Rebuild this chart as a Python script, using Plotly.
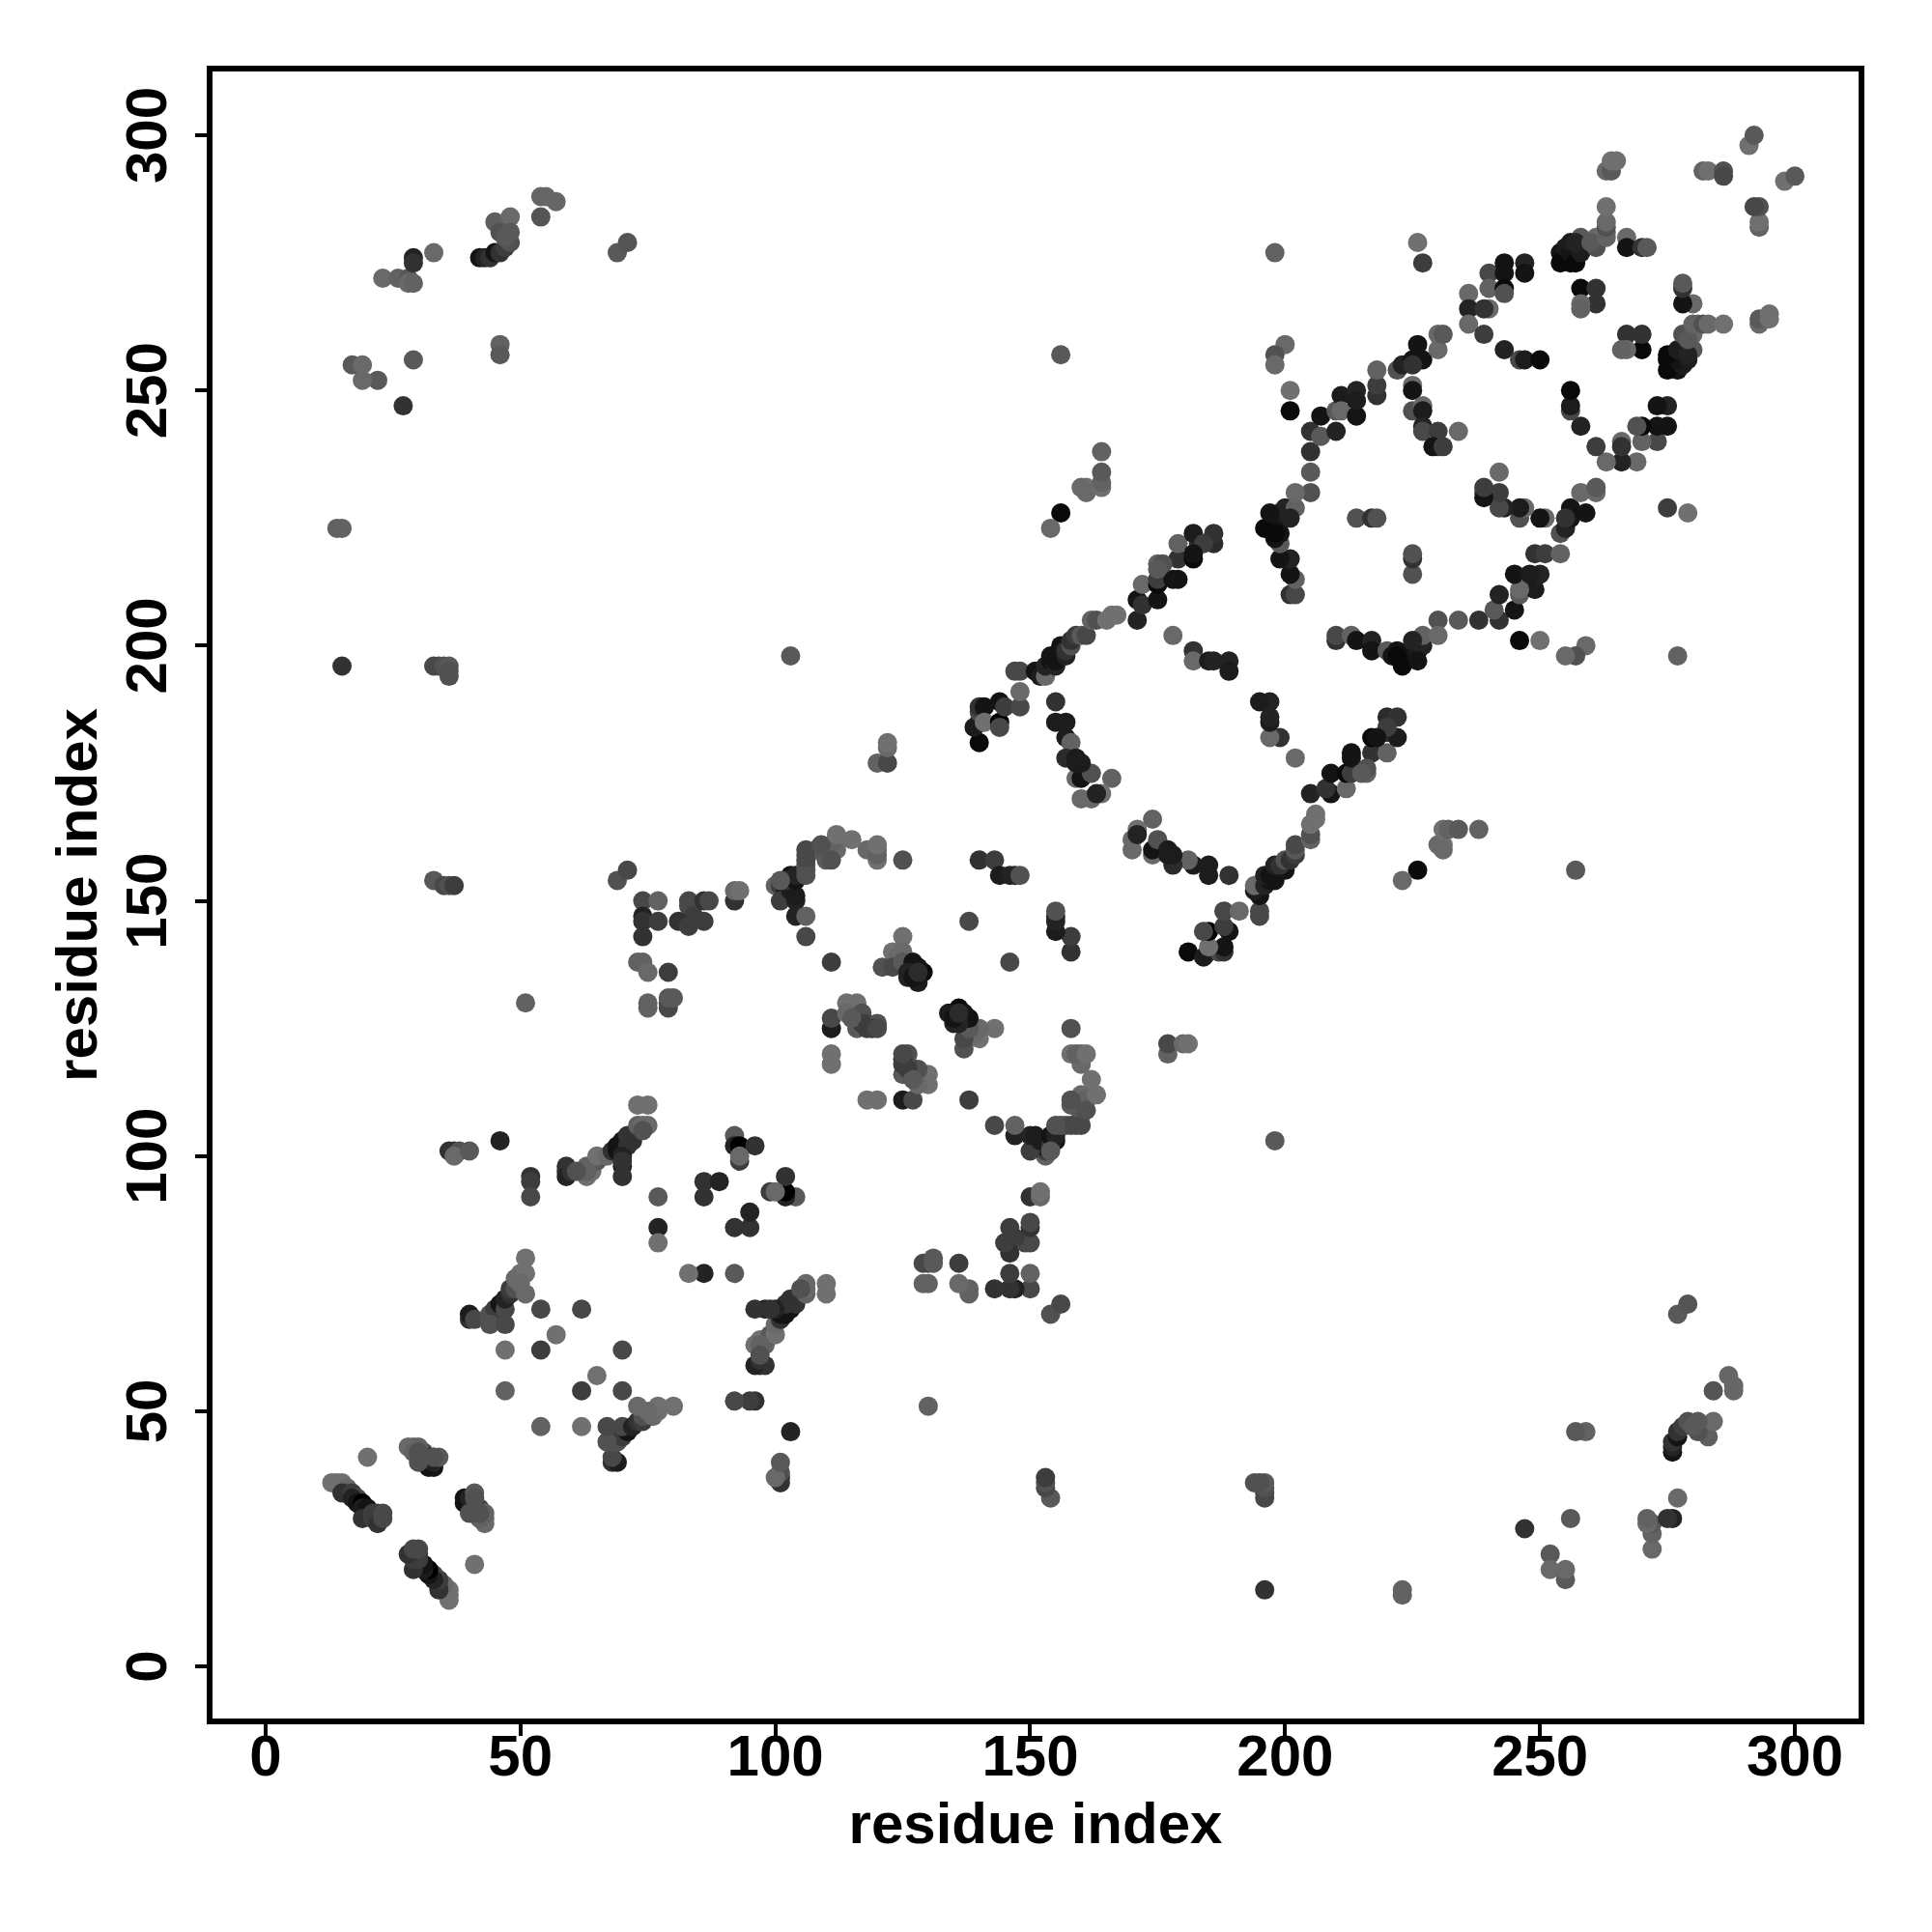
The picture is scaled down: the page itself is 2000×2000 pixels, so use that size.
import plotly.graph_objects as go

a_i = [13,14,15,16,16,15,17,18,17,18,19,19,20,20,19,21,21,22,22,22,23,23]
a_j = [36,36,36,35,34,34,34,33,33,32,32,31,31,30,29,30,29,29,30,28,29,30]
a_s = [100,100,100,90,60,30,40,50,20,10,0,15,10,10,30,40,40,40,40,30,50,50]

b_i = [28,29,29,30,31,32,33,31,32,33,33,34,30,30,30,33,20]
b_j = [43,43,42,42,42,41,41,40,39,39,40,41,40,43,42,41,41]
b_s = [90,90,80,70,50,30,50,40,10,10,20,70,60,80,60,60,100]

c_i = [40,40,41,44,45,46,44,45,46,47,47,48,48,49,49,50,50,51,51,51,50,44,47]
c_j = [68,69,68,68,68,68,69,70,71,70,72,73,74,74,76,77,76,80,77,73,75,67,67]
c_s = [30,15,50,70,70,70,60,40,10,50,20,30,40,60,90,100,90,100,100,90,90,60,50]

d_i = [46,36,37,38,37,40,54,62,57,47,54,47,52,52,52]
d_j = [103,101,101,101,100,101,70,70,65,62,62,54,96,95,92]
d_s = [20,30,30,60,90,70,50,50,100,100,40,80,30,40,50]

e_i = [59,59,59,60,62,63,64,63,65,65,63,61]
e_j = [98,97,96,97,97,96,97,98,99,100,97,97]
e_s = [30,30,20,30,90,100,100,80,70,100,80,60]

f_i = [67,68,69,69,70,71,70,70,70,72,73,71,72,73,74,75,73,75,74,70]
f_j = [100,101,101,102,103,102,100,98,96,104,105,104,103,106,106,106,110,110,105,99]
f_s = [90,30,10,10,10,30,20,20,30,50,50,30,30,80,90,90,100,100,60,30]

g_i = [77,77,77,86,86,89,92,92,93,93,96,93]
g_j = [92,86,83,95,92,95,104,102,102,99,102,100]
g_s = [70,20,100,30,30,20,70,20,0,40,30,90]

h_i = [51,73,74,75,79,75,75,79,79,80,79,74,74,74,74,77,77,69,71,83,83,83,84,86,87,86,92,92,93]
h_j = [130,138,138,136,136,130,129,129,130,131,131,150,147,146,143,150,146,154,156,150,149,146,147,150,150,146,150,152,152]
h_s = [80,80,80,90,40,80,80,50,50,70,70,50,20,30,30,80,40,60,50,50,50,60,40,30,50,40,30,90,100]

k_i = [100,101,102,103,101,103,104,104,104,106,106,102,104,104,106,106,106,108,110,110,112,112,111,115,118,120,120,120,125,111,106,101,106,109,111,112,120,106]
k_j = [153,153,152,155,150,152,150,151,147,147,143,154,154,155,159,157,156,160,159,158,162,160,161,162,160,160,158,159,158,138,158,154,160,161,158,163,161,155]
k_s = [80,40,15,10,40,15,20,15,20,80,50,30,10,20,60,70,60,70,60,70,100,90,80,100,90,90,100,80,60,40,50,70,50,60,60,100,100,60]

l_i = [111,111,111,111,114,116,114,117,118,120,116,119,117,115,118,120]
l_j = [118,120,125,127,130,130,128,128,126,126,125,125,126,127,125,125]
l_s = [100,100,15,50,100,100,90,60,50,60,70,30,40,70,40,50]

m_i = [125,123,125,124,121,123,125,127,129,128,126,128,126,127,128,138]
m_j = [143,140,140,139,137,137,138,138,136,137,136,134,135,135,136,146]
m_s = [100,100,90,90,60,50,70,10,5,10,20,15,20,10,25,50]

n_i = [140,143,144,147,146,148]
n_j = [158,158,155,155,155,155]
n_s = [30,40,15,20,20,60]

o_i = [140,139,140,140,140,141,141,144,144,145,144,148,148,148,147]
o_j = [181,184,185,187,188,188,185,189,185,188,184,188,191,195,195]
o_s = [5,15,15,50,30,10,100,10,0,40,50,50,90,50,50]

p_i = [151,152,153,153,154,154,155,155,156,157,157,158,158,159,160,161,162,163,165,166,167]
p_j = [195,194,194,196,198,197,196,197,200,198,199,200,201,202,202,202,205,205,205,206,206]
p_s = [10,15,90,20,10,10,20,10,10,20,30,60,30,40,70,50,80,60,100,100,100]

q_i = [171,171,172,175,172,175,175,178,179,179,182,179,175,183,182,186,186,184,176,175,182]
q_j = [205,209,208,209,212,212,213,213,213,217,217,220,216,220,222,220,222,220,216,215,218]
q_s = [20,10,30,10,90,5,40,10,10,30,5,80,80,30,15,25,30,40,60,70,10]

r_i = [155,155,157,157,158,157,159,160,159,160,162,166,160,162,164,163,159,160]
r_j = [189,185,185,182,181,178,178,176,174,174,175,174,170,170,171,171,177,177]
r_s = [30,15,15,15,80,25,15,15,90,10,60,80,90,90,100,20,15,15]

s_i = [182,182,185,186,189,189,178]
s_j = [199,197,197,197,197,195,202]
s_s = [30,90,15,20,20,15,90]

t_i = [120,122,122,122,103,156,156,154,161,160,161,164,164,164,164]
t_j = [177,177,180,181,198,257,226,223,231,231,230,231,232,234,238]
t_s = [80,50,90,100,70,70,5,90,100,90,90,100,80,70,80]

u_i = [201,202,202,201,201,199,199,198,196,199,199,199,200,202,201,197,198]
u_j = [210,210,213,214,217,217,220,221,223,222,225,226,227,227,225,226,222]
u_s = [30,50,80,10,20,10,70,10,5,10,10,15,20,80,20,10,5]

v_i = [198,226,227,200,198,198,201,201]
v_j = [277,279,275,259,257,255,250,246]
v_s = [80,100,40,90,60,90,100,5]

w_i = [205,202,205,205,205,207,207,210,210,211,211,214,214,214,218,218,218,222,223,225,226,227,225,230,230,231]
w_j = [230,230,234,238,242,241,245,242,246,249,246,250,245,248,249,251,254,254,255,256,259,256,255,258,261,261]
w_s = [60,90,70,30,30,70,10,20,70,15,90,20,10,15,30,40,80,60,20,10,10,10,30,90,90,70]

x_i = [214,217,218,225,225,225,227,227,227,227,230,230,229,234,231]
x_j = [225,225,225,251,250,246,247,246,243,242,242,239,239,242,239]
x_s = [60,30,60,90,10,60,90,15,20,50,40,50,10,90,40]

y_i = [236,236,236,239,243,246,247,250,240,240,240,243,243,243,243,247,247,239]
y_j = [269,266,263,261,258,256,256,256,273,270,266,275,273,270,269,275,273,266]
y_s = [90,20,90,40,20,50,15,5,50,80,90,10,10,5,60,20,10,30]

z_i = [254,254,255,255,256,256,256,257,257,258,258,257,261,261,260,263,263,263,263,263,263,264,264,265,267,267,270,271,258,261,261,258,258]
z_j = [277,275,276,278,275,277,279,276,275,277,280,279,280,278,279,281,280,282,283,286,293,293,295,295,280,278,278,278,270,270,267,267,266]
z_s = [10,5,5,15,5,10,15,10,5,15,70,20,90,60,70,90,80,60,90,100,90,70,100,100,90,10,30,70,5,30,30,90,80]

aa_i = [282,283,286,286,291,292]
aa_j = [293,293,293,292,298,300]
aa_s = [80,100,60,50,100,70]

ab_i = [23,26,28,28,29,29,29,33,27,29,22,19,17,19]
ab_j = [272,272,272,271,271,276,275,277,247,256,252,252,255,255]
ab_s = [90,80,70,90,80,20,30,90,30,70,70,90,70,90]

ac_i = [42,43,44,45,45,46,47,46,48,48,48,47,46,46,54,54,55,57,69,71]
ac_j = [276,276,276,277,283,277,278,281,284,279,281,280,259,257,284,288,288,287,277,279]
ac_s = [10,20,30,10,75,30,40,60,90,60,70,70,80,70,65,85,85,85,70,65]

ad_i = [14,15,15,33,34,35,36,36,36,33,35,36,37,81,83]
ad_j = [223,223,196,196,196,196,196,195,194,154,153,153,153,146,145]
ad_s = [80,80,30,50,50,60,70,60,60,70,50,60,40,30,40]

tick_vals = [0, 50, 100, 150, 200, 250, 300]
axis_label = "residue index"

groups = [(a_i,a_j,a_s),(b_i,b_j,b_s),(c_i,c_j,c_s),(d_i,d_j,d_s),(e_i,e_j,e_s),
          (f_i,f_j,f_s),(g_i,g_j,g_s),(h_i,h_j,h_s),(k_i,k_j,k_s),(l_i,l_j,l_s),
          (m_i,m_j,m_s),(n_i,n_j,n_s),(o_i,o_j,o_s),(p_i,p_j,p_s),(q_i,q_j,q_s),
          (r_i,r_j,r_s),(s_i,s_j,s_s),(t_i,t_j,t_s),(u_i,u_j,u_s),(v_i,v_j,v_s),
          (w_i,w_j,w_s),(x_i,x_j,x_s),(y_i,y_j,y_s),(z_i,z_j,z_s),(aa_i,aa_j,aa_s),
          (ab_i,ab_j,ab_s),(ac_i,ac_j,ac_s),(ad_i,ad_j,ad_s)]

xs, ys, cs = [], [], []
for gi, gj, gs in groups:
    assert len(gi) == len(gj) == len(gs)
    xs += list(gi) + list(gj)
    ys += list(gj) + list(gi)
    cs += list(gs) + list(gs)

FONT = "Liberation Sans"
fig = go.Figure(go.Scatter(
    x=xs, y=ys, mode="markers",
    marker=dict(size=20, color=cs, cmin=0, cmax=100,
                colorscale=[[0, "rgb(0,0,0)"], [0.1, "rgb(20,20,20)"], [0.3, "rgb(50,50,50)"],
                            [0.5, "rgb(72,72,72)"], [0.8, "rgb(98,98,98)"], [1, "rgb(112,112,112)"]],
                showscale=False, line=dict(width=0)),
    hoverinfo="skip", showlegend=False))

axis_common = dict(
    tickmode="array", tickvals=tick_vals, ticks="outside", ticklen=12, tickwidth=4,
    tickcolor="black", showline=True, linecolor="black", linewidth=6, mirror=True,
    showgrid=False, zeroline=False,
    tickfont=dict(family=FONT, size=60, color="black", weight=700),
)
title_font = dict(family=FONT, size=60, color="black", weight=700)
fig.update_xaxes(range=[-10.4, 312.5], ticklabelstandoff=-31,
                 title=dict(text=axis_label, standoff=18, font=title_font), **axis_common)
fig.update_yaxes(range=[-10.2, 312.5], tickangle=-90, ticklabelstandoff=6, ticklabelshift=9,
                 title=dict(text=axis_label, standoff=0, font=title_font), **axis_common)
fig.update_layout(width=2000, height=2000, paper_bgcolor="white", plot_bgcolor="white",
                  margin=dict(l=211.5, r=83.5, t=65.5, b=228.5, autoexpand=False))
fig.write_html("out.html")
